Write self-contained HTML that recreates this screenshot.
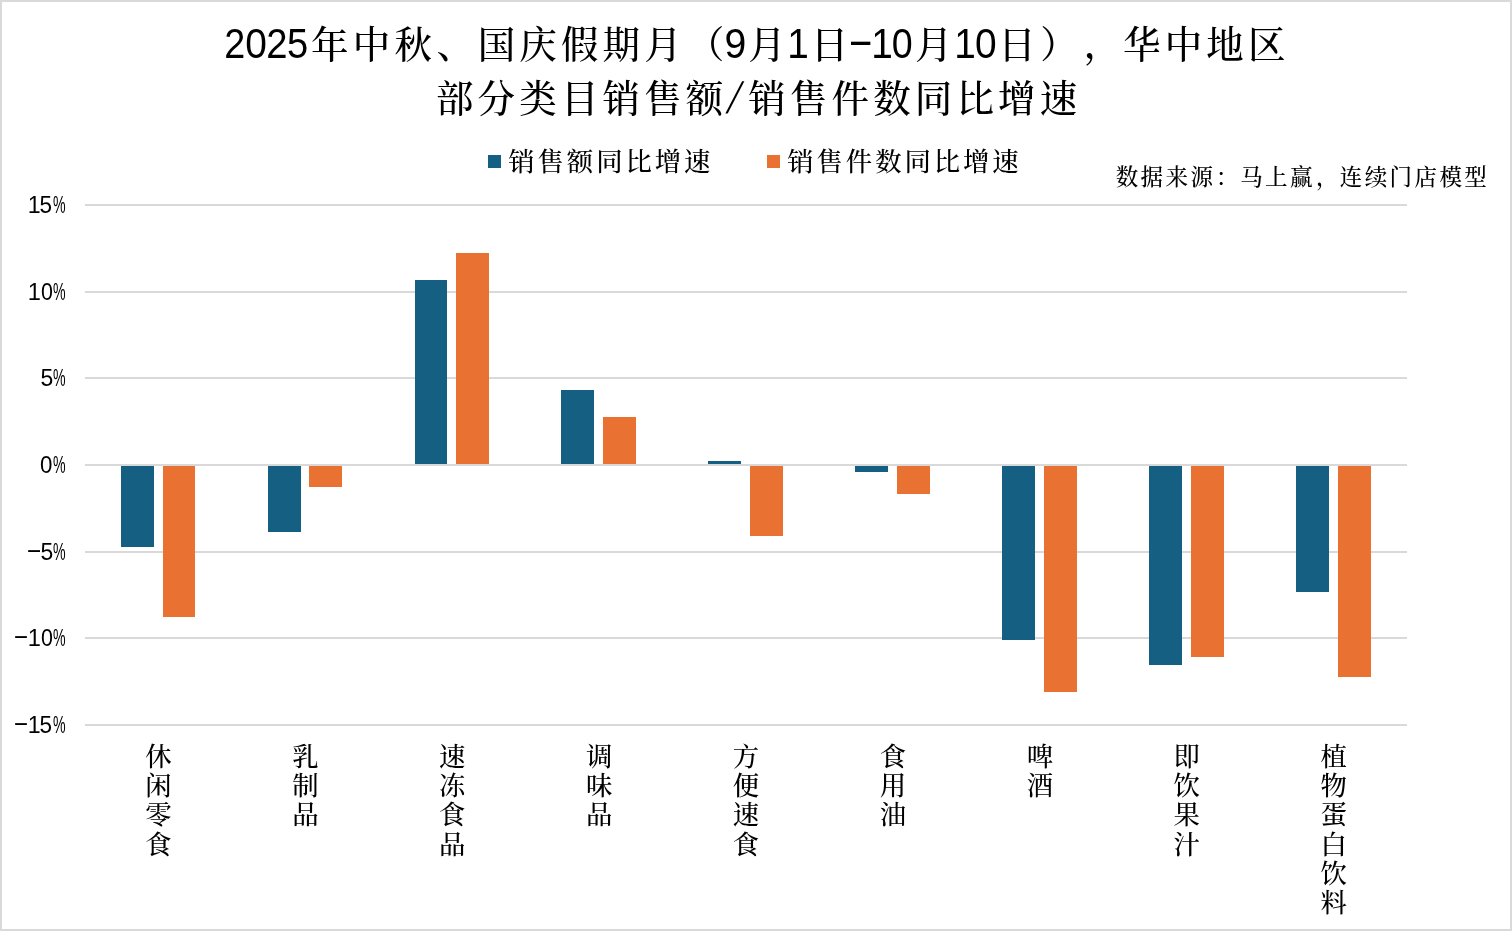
<!DOCTYPE html>
<html lang="zh-CN"><head><meta charset="utf-8">
<title>2025年中秋、国庆假期月（9月1日-10月10日），华中地区部分类目销售额/销售件数同比增速</title>
<style>
html,body{margin:0;padding:0;background:#fff;}
body{width:1512px;height:931px;overflow:hidden;position:relative;}
svg{display:block;position:absolute;left:0;top:0;}
text{fill:#000;white-space:pre;}
.c{font-family:"Liberation Serif", "Noto Serif CJK SC", serif;font-weight:500;}
.d{font-family:"Liberation Sans", "Noto Sans CJK SC", sans-serif;font-weight:400;}
.t{font-size:37.5px;}
.td{font-size:42.5px;}
.l{font-size:26.4px;}
.s{font-size:22.5px;}
.x{font-size:26.4px;}
.a{font-family:"Liberation Sans", "Noto Sans CJK SC", sans-serif;font-size:24.4px;}
</style></head><body>
<svg width="1512" height="931" viewBox="0 0 1512 931">
<rect x="0" y="0" width="1512" height="931" fill="#fff"/>
<rect x="1" y="1" width="1510" height="929" fill="none" stroke="#D9D9D9" stroke-width="2"/>
<text><tspan class="d td" x="224.21" y="58" textLength="21.02" lengthAdjust="spacingAndGlyphs">2</tspan><tspan class="d td" x="245.24" y="58" textLength="21.65" lengthAdjust="spacingAndGlyphs">0</tspan><tspan class="d td" x="266.19" y="58" textLength="21.26" lengthAdjust="spacingAndGlyphs">2</tspan><tspan class="d td" x="286.98" y="58" textLength="21.19" lengthAdjust="spacingAndGlyphs">5</tspan><tspan class="c t" x="311.11 352.75 394.39 436.53 477.67 519.31 560.95 602.59 644.23 686.87" y="58">年中秋、国庆假期月（</tspan><tspan class="d td" x="724.44" y="58" textLength="21.76" lengthAdjust="spacingAndGlyphs">9</tspan><tspan class="c t" x="748.33" y="58">月</tspan><tspan class="d td" x="787.22" y="58" textLength="21.56" lengthAdjust="spacingAndGlyphs">1</tspan><tspan class="c t" x="810.79" y="58">日</tspan><tspan class="d td" x="847.54" y="55" textLength="26.37" lengthAdjust="spacingAndGlyphs">-</tspan><tspan class="d td" x="871.22" y="58" textLength="21.56" lengthAdjust="spacingAndGlyphs">1</tspan><tspan class="d td" x="891.69" y="58" textLength="20.95" lengthAdjust="spacingAndGlyphs">0</tspan><tspan class="c t" x="914.89" y="58">月</tspan><tspan class="d td" x="954.32" y="58" textLength="21.56" lengthAdjust="spacingAndGlyphs">1</tspan><tspan class="d td" x="974.94" y="58" textLength="21.65" lengthAdjust="spacingAndGlyphs">0</tspan><tspan class="c t" x="998.17 1040.31 1083.65 1123.09 1164.73 1206.37 1248.01" y="58 58 57 58 58 58 58">日），华中地区</tspan></text>
<g>
<text class="c t" x="435.97 477.61 519.25 560.89 602.53 644.17 685.81" y="112">部分类目销售额</text>
<text class="d td" transform="translate(725.4 113.1) skewX(-18.5) scale(0.7 1.03)">/</text>
<text class="c t" x="748.27 789.91 831.55 873.19 914.83 956.47 998.11 1039.75" y="112">销售件数同比增速</text>
</g>
<rect x="488" y="155" width="13" height="13" fill="#156082"/>
<text class="c l" x="508.25 537.55 566.85 596.15 625.45 654.75 684.05" y="171">销售额同比增速</text>
<rect x="767" y="155" width="13" height="13" fill="#E97132"/>
<text class="c l" x="787.25 816.55 845.85 875.15 904.45 933.75 963.05 992.35" y="171">销售件数同比增速</text>
<text class="c s" x="1115.7 1140.6 1165.5 1190.4 1215.8 1240.2 1265.1 1290 1315.9 1339.8 1364.7 1389.6 1414.5 1439.4 1464.3" y="185">数据来源：马上赢，连续门店模型</text>
<g fill="#D9D9D9">
<rect x="85" y="204" width="1322" height="2"/>
<rect x="85" y="291" width="1322" height="2"/>
<rect x="85" y="377" width="1322" height="2"/>
<rect x="85" y="551" width="1322" height="2"/>
<rect x="85" y="637" width="1322" height="2"/>
<rect x="85" y="724" width="1322" height="2"/>
</g>
<g fill="#156082">
<rect x="121" y="465" width="33" height="82"/>
<rect x="268" y="465" width="33" height="67"/>
<rect x="415" y="280" width="32" height="185"/>
<rect x="561" y="390" width="33" height="75"/>
<rect x="708" y="461" width="33" height="4"/>
<rect x="855" y="465" width="33" height="7"/>
<rect x="1002" y="465" width="33" height="175"/>
<rect x="1149" y="465" width="33" height="200"/>
<rect x="1296" y="465" width="33" height="127"/>
</g>
<g fill="#E97132">
<rect x="163" y="465" width="32" height="152"/>
<rect x="309" y="465" width="33" height="22"/>
<rect x="456" y="253" width="33" height="212"/>
<rect x="603" y="417" width="33" height="48"/>
<rect x="750" y="465" width="33" height="71"/>
<rect x="897" y="465" width="33" height="29"/>
<rect x="1044" y="465" width="33" height="227"/>
<rect x="1191" y="465" width="33" height="192"/>
<rect x="1338" y="465" width="33" height="212"/>
</g>
<rect x="85" y="464" width="1322" height="2" fill="#D9D9D9"/>
<text class="a"><tspan x="27.69" y="213" textLength="12.94" lengthAdjust="spacingAndGlyphs">1</tspan><tspan x="39.4" y="213" textLength="12.52" lengthAdjust="spacingAndGlyphs">5</tspan><tspan x="53" y="213" textLength="12.58" lengthAdjust="spacingAndGlyphs">%</tspan></text>
<text class="a"><tspan x="27.65" y="300" textLength="13.16" lengthAdjust="spacingAndGlyphs">1</tspan><tspan x="41.04" y="300" textLength="11.94" lengthAdjust="spacingAndGlyphs">0</tspan><tspan x="53" y="300" textLength="12.58" lengthAdjust="spacingAndGlyphs">%</tspan></text>
<text class="a"><tspan x="40.58" y="386" textLength="12.76" lengthAdjust="spacingAndGlyphs">5</tspan><tspan x="53" y="386" textLength="12.58" lengthAdjust="spacingAndGlyphs">%</tspan></text>
<text class="a"><tspan x="39.91" y="473" textLength="12.41" lengthAdjust="spacingAndGlyphs">0</tspan><tspan x="53" y="473" textLength="12.58" lengthAdjust="spacingAndGlyphs">%</tspan></text>
<text class="a"><tspan x="25.91" y="557" textLength="16.17" lengthAdjust="spacingAndGlyphs">-</tspan><tspan x="40.58" y="560" textLength="12.76" lengthAdjust="spacingAndGlyphs">5</tspan><tspan x="53" y="560" textLength="12.58" lengthAdjust="spacingAndGlyphs">%</tspan></text>
<text class="a"><tspan x="12.93" y="643" textLength="16.04" lengthAdjust="spacingAndGlyphs">-</tspan><tspan x="27.65" y="646" textLength="13.16" lengthAdjust="spacingAndGlyphs">1</tspan><tspan x="41.04" y="646" textLength="11.94" lengthAdjust="spacingAndGlyphs">0</tspan><tspan x="53" y="646" textLength="12.58" lengthAdjust="spacingAndGlyphs">%</tspan></text>
<text class="a"><tspan x="12.93" y="730" textLength="16.04" lengthAdjust="spacingAndGlyphs">-</tspan><tspan x="27.69" y="733" textLength="12.94" lengthAdjust="spacingAndGlyphs">1</tspan><tspan x="39.4" y="733" textLength="12.52" lengthAdjust="spacingAndGlyphs">5</tspan><tspan x="53" y="733" textLength="12.58" lengthAdjust="spacingAndGlyphs">%</tspan></text>
<text class="c x" x="145.25 145.25 145.25 145.25" y="766 795 824 854">休闲零食</text>
<text class="c x" x="292.15 292.15 292.15" y="766 795 824">乳制品</text>
<text class="c x" x="439.05 439.05 439.05 439.05" y="766 795 824 854">速冻食品</text>
<text class="c x" x="585.95 585.95 585.95" y="766 795 824">调味品</text>
<text class="c x" x="732.85 732.85 732.85 732.85" y="766 795 824 854">方便速食</text>
<text class="c x" x="879.75 879.75 879.75" y="766 795 824">食用油</text>
<text class="c x" x="1026.65 1026.65" y="766 795">啤酒</text>
<text class="c x" x="1173.55 1173.55 1173.55 1173.55" y="766 795 824 854">即饮果汁</text>
<text class="c x" x="1320.45 1320.45 1320.45 1320.45 1320.45 1320.45" y="766 795 824 854 883 912">植物蛋白饮料</text>
</svg>
</body></html>
